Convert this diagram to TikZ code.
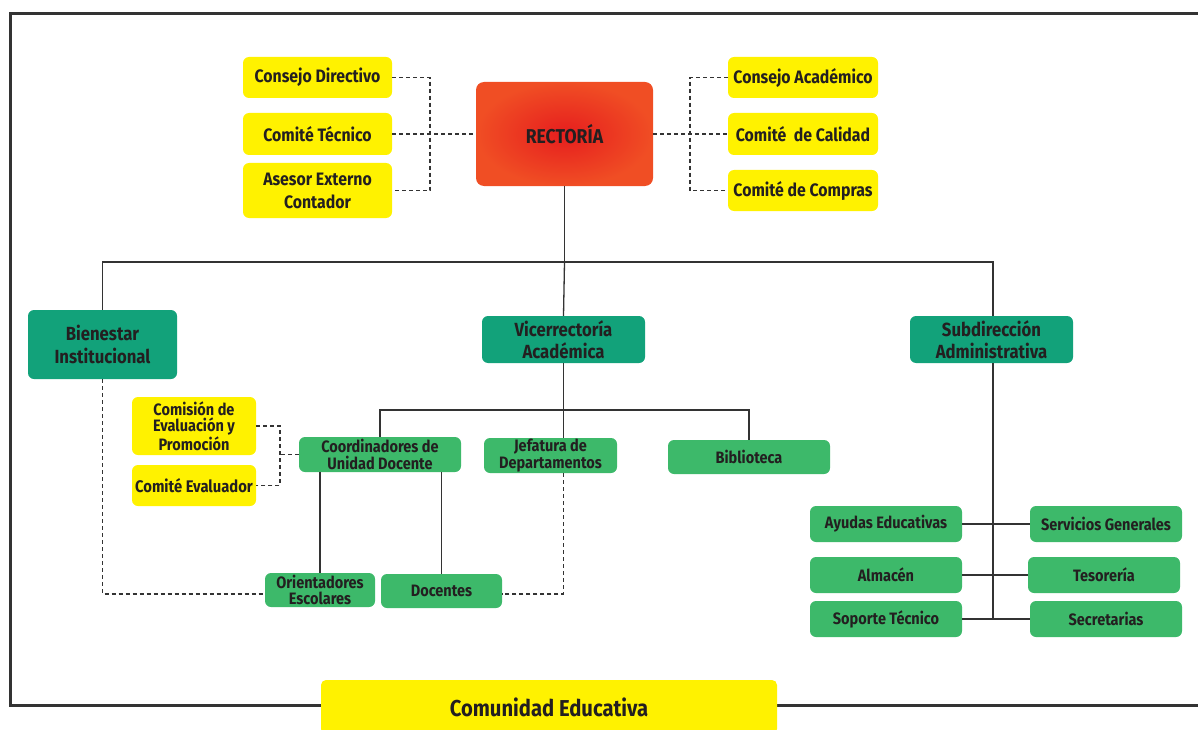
\documentclass[tikz,border=0pt]{standalone}
\usepackage{fontspec}
\setmainfont[FakeStretch=0.88]{Fira Sans}
\usetikzlibrary{calc}
\definecolor{ylw}{HTML}{FFF200}
\definecolor{dgreen}{HTML}{12A27A}
\definecolor{lgreen}{HTML}{3DB96A}
\definecolor{txt}{HTML}{231F20}
\definecolor{rin}{HTML}{E61E1E}
\definecolor{rout}{HTML}{F04E24}
\definecolor{ln}{HTML}{333333}
\tikzset{
  box/.style={rounded corners=6pt, inner sep=0pt, align=center, text=txt, font=\bfseries\fontsize{18}{18}\selectfont},
  ybox/.style={box, fill=ylw},
  dbox/.style={box, fill=dgreen, font=\bfseries\fontsize{19}{22}\selectfont},
  lbox/.style={box, fill=lgreen, font=\bfseries\fontsize{16.5}{16.5}\selectfont},
  solidc/.style={draw=ln, line width=1.3pt},
  dashc/.style={draw=ln, line width=1.2pt, dash pattern=on 4pt off 3pt},
}
\begin{document}
\begin{tikzpicture}[x=1pt,y=-1pt]
\useasboundingbox (0,0) rectangle (1198,730);
% frame
\draw[line width=3pt, draw=ln] (1199,14) -- (10,14) -- (10,705) -- (1199,705);
% top left yellow
\node[ybox, minimum width=149pt, minimum height=41pt] (cd) at (317.5,77.5) {Consejo Directivo};
\node[ybox, minimum width=149pt, minimum height=42pt] (ct) at (317.5,134) {Comité Técnico};
\node[ybox, minimum width=149pt, minimum height=55pt, font=\bfseries\fontsize{18}{23}\selectfont] (ae) at (317.5,190.5) {Asesor Externo\\Contador};
% rectoria
\node[rounded corners=8pt, minimum width=177pt, minimum height=104pt, shading=radial, inner color=rin, outer color=rout, text=txt, font=\bfseries\fontsize{20}{20}\selectfont] (re) at (564.5,134) {RECTORÍA};
% top right yellow
\node[ybox, minimum width=150pt, minimum height=41pt] (ca) at (803,77.5) {Consejo Académico};
\node[ybox, minimum width=150pt, minimum height=42pt] (cc) at (803,134) {Comité~~de Calidad};
\node[ybox, minimum width=150pt, minimum height=41pt] (cp) at (803,190.5) {Comité de Compras};
% brackets
\coordinate (lb) at (430,0);
\coordinate (rb) at (690,0);
\draw[dashc] (cd.east) -- (cd.east -| lb) -- (ae.east -| lb) -- (ae.east);
\draw[dashc] (ct.east) -- (re.west);
\draw[dashc] (ca.west) -- (ca.west -| rb) -- (cp.west -| rb) -- (cp.west);
\draw[dashc] (re.east) -- (cc.west);
% level 2
\node[dbox, minimum width=149pt, minimum height=69pt, font=\bfseries\fontsize{19}{23}\selectfont] (bi) at (102.5,344.5) {Bienestar\\Institucional};
\node[dbox, minimum width=163pt, minimum height=47pt] (vr) at (563.5,339.5) {Vicerrectoría\\Académica};
\node[dbox, minimum width=163pt, minimum height=47pt] (sa) at (991.5,339.5) {Subdirección\\Administrativa};
\coordinate (bus) at (0,262);
\draw[solidc] (re.south) -- (re.south |- bus);
\draw[solidc] (bi.north) -- (bi.north |- bus) -- ($(sa.north |- bus)+(1.5,0)$) -- ($(sa.north)+(1.5,0)$);
\draw[solidc] (re.south |- bus) -- (vr.north);
% academic level
\node[lbox, minimum width=162pt, minimum height=35pt, font=\bfseries\fontsize{16.5}{17}\selectfont] (cu) at (380,454.5) {Coordinadores de\\Unidad Docente};
\node[lbox, minimum width=133pt, minimum height=35pt, font=\bfseries\fontsize{16.5}{17}\selectfont] (jd) at (550.5,455.5) {Jefatura de\\Departamentos};
\node[lbox, minimum width=162pt, minimum height=34pt] (bib) at (749,457) {Biblioteca};
\coordinate (acb) at (0,410);
\draw[solidc] (cu.north) -- (cu.north |- acb) -- (bib.north |- acb) -- (bib.north);
\draw[solidc] (vr.south) -- (vr.south |- jd.north);
% evaluation
\node[ybox, minimum width=124pt, minimum height=58pt, font=\bfseries\fontsize{16.5}{16.5}\selectfont] (ce) at (194,426) {Comisión de\\Evaluación y\\Promoción};
\node[ybox, minimum width=124pt, minimum height=41pt, font=\bfseries\fontsize{16.8}{17}\selectfont] (cev) at (194,485.5) {Comité Evaluador};
\coordinate (eb) at (280,0);
\draw[dashc] (ce.east) -- (ce.east -| eb) -- (cev.east -| eb) -- (cev.east);
\draw[dashc] (cu.west) -- (cu.west -| eb);
% bottom academic
\node[lbox, minimum width=110pt, minimum height=34pt, font=\bfseries\fontsize{16.5}{16}\selectfont] (oe) at (320,590) {Orientadores\\Escolares};
\node[lbox, minimum width=121pt, minimum height=34pt] (do) at (441.5,591) {Docentes};
\draw[solidc] (oe.north) -- (oe.north |- cu.south);
\draw[solidc] (do.north) -- (do.north |- cu.south);
\coordinate (dl) at (0,594);
\draw[dashc] (bi.south) -- (bi.south |- dl) -- (oe.west |- dl);
\draw[dashc] (vr.south |- jd.south) -- (vr.south |- dl) -- (do.east |- dl);
% administrative
\node[lbox, minimum width=152pt, minimum height=36pt] (ay) at (886,524) {Ayudas Educativas};
\node[lbox, minimum width=152pt, minimum height=36pt] (sg) at (1106,524) {Servicios Generales};
\node[lbox, minimum width=152pt, minimum height=36pt] (al) at (886,575) {Almacén};
\node[lbox, minimum width=152pt, minimum height=36pt] (te) at (1104,575) {Tesorería};
\node[lbox, minimum width=152pt, minimum height=36pt] (st) at (886,619) {Soporte Técnico};
\node[lbox, minimum width=152pt, minimum height=36pt] (se) at (1106,619) {Secretarias};
\draw[solidc] ($(sa.south)+(1.5,0)$) -- ($(sa.south |- st.east)+(1.5,0)$);
\draw[solidc] (ay.east) -- (sg.west);
\draw[solidc] (al.east) -- (te.west);
\draw[solidc] (st.east) -- (se.west);
% comunidad
\node[ybox, rounded corners=5pt, minimum width=456pt, minimum height=54pt, font=\bfseries\fontsize{23}{23}\selectfont] (com) at (549,707) {Comunidad Educativa};
\end{tikzpicture}
\end{document}
